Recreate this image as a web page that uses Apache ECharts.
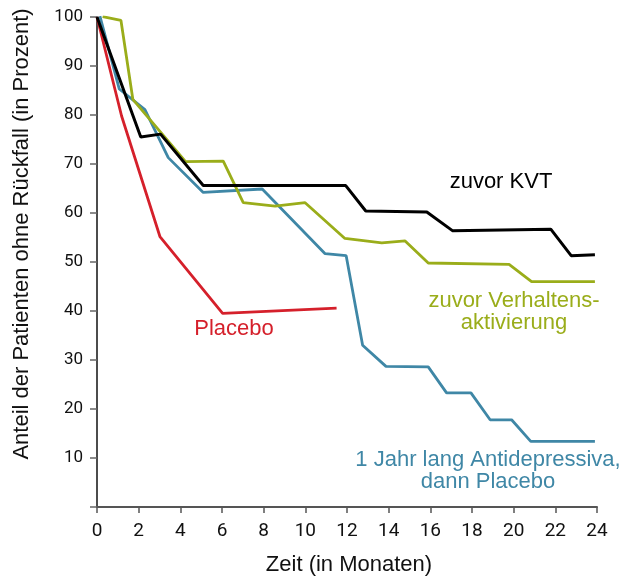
<!DOCTYPE html>
<html><head><meta charset="utf-8">
<script src="https://cdn.jsdelivr.net/npm/echarts@6/dist/echarts.min.js"></script>
<style>html,body{margin:0;padding:0;background:#fff}#c{width:625px;height:579px}</style>
</head><body><div id="c"></div>
<script>
const xTicks = [0,2,4,6,8,10,12,14,16,18,20,22,24];
const yTicks = [10,20,30,40,50,60,70,80,90,100];
const kvt = [[0,100],[2.1,75.5],[3.05,76.1],[5.1,65.6],[11.94,65.6],[12.9,60.4],[15.83,60.2],[17.06,56.4],[21.78,56.7],[22.76,51.3],[23.9,51.5]];
const verhaltens = [[0.27,100.1],[1.15,99.3],[1.72,83.2],[4.25,70.5],[6.06,70.6],[7.02,62.1],[8.55,61.4],[9.99,62.1],[11.9,54.8],[13.67,53.9],[14.79,54.3],[15.9,49.8],[19.78,49.5],[20.86,46],[23.9,46]];
const antidep = [[0.14,100.2],[1.07,85.3],[2.3,81.1],[3.42,71.3],[5.1,64.2],[7.93,64.9],[10.95,51.7],[11.96,51.3],[12.75,33],[13.87,28.7],[15.9,28.6],[16.78,23.3],[17.95,23.3],[18.87,17.8],[19.9,17.8],[20.82,13.4],[23.9,13.4]];
const placebo = [[0,100],[1.18,79.8],[3.02,55.2],[6.03,39.5],[11.5,40.6]];
const labels = {
  kvt: 'zuvor KVT',
  verhaltens: 'zuvor Verhaltens-\naktivierung',
  placebo: 'Placebo',
  antidep: '1 Jahr lang Antidepressiva,\ndann Placebo'
};
const xTitle = 'Zeit (in Monaten)';
const yTitle = 'Anteil der Patienten ohne Rückfall (in Prozent)';
const C = {kvt:'#000000', verhaltens:'#9aad1a', placebo:'#d5202b', antidep:'#3f87a6'};
const tickFont = 'Roboto, "Liberation Sans", sans-serif';
const font = '"Liberation Sans", Arial, sans-serif';

const chart = echarts.init(document.getElementById('c'), null, {renderer:'canvas'});
function line(name, data, color, w){
  return {name, type:'line', data, symbol:'none', smooth:false, lineStyle:{color, width:w}, itemStyle:{color}, z: 3, animation:false};
}
chart.setOption({
  animation:false,
  grid:{left:97, right:28, top:17, bottom:72, containLabel:false, outerBoundsMode:'none'},
  xAxis:{type:'value', min:0, max:24, interval:2,
    axisLine:{show:true, lineStyle:{color:'#555', width:2}},
    axisTick:{show:true, length:6, lineStyle:{color:'#555', width:1.5}},
    axisLabel:{fontFamily:tickFont, fontSize:19, color:'#111', margin:15, formatter:v=>xTicks.includes(v)?String(v):''},
    splitLine:{show:false}},
  yAxis:{type:'value', min:0, max:100, interval:10,
    axisLine:{show:true, lineStyle:{color:'#111', width:1.5}},
    axisTick:{show:true, length:7, lineStyle:{color:'#666', width:1.5}},
    axisLabel:{fontFamily:tickFont, fontSize:17, color:'#111', margin:14, formatter:v=>yTicks.includes(v)?String(v):''},
    splitLine:{show:false}},
  series:[
    line(labels.placebo, placebo, C.placebo, 2.8),
    line(labels.antidep, antidep, C.antidep, 2.8),
    line(labels.verhaltens, verhaltens, C.verhaltens, 2.8),
    line(labels.kvt, kvt, C.kvt, 3)
  ],
  graphic:[
    {type:'text', x:349, y:565, style:{text:xTitle, fontFamily:font, fontSize:22, fill:'#111', align:'center', verticalAlign:'middle'}},
    {type:'text', x:22, y:234, rotation:Math.PI/2, style:{text:yTitle, fontFamily:font, fontSize:22, fill:'#111', align:'center', verticalAlign:'middle'}},
    {type:'text', x:501, y:182, style:{text:labels.kvt, fontFamily:font, fontSize:22, fill:C.kvt, align:'center', verticalAlign:'middle'}},
    {type:'text', x:514, y:312, style:{text:labels.verhaltens, fontFamily:font, fontSize:22, fill:C.verhaltens, align:'center', verticalAlign:'middle', lineHeight:22}},
    {type:'text', x:234, y:329, style:{text:labels.placebo, fontFamily:font, fontSize:22, fill:C.placebo, align:'center', verticalAlign:'middle'}},
    {type:'text', x:488, y:471, style:{text:labels.antidep, fontFamily:font, fontSize:22, fill:C.antidep, align:'center', verticalAlign:'middle', lineHeight:22}}
  ]
});
</script></body></html>
